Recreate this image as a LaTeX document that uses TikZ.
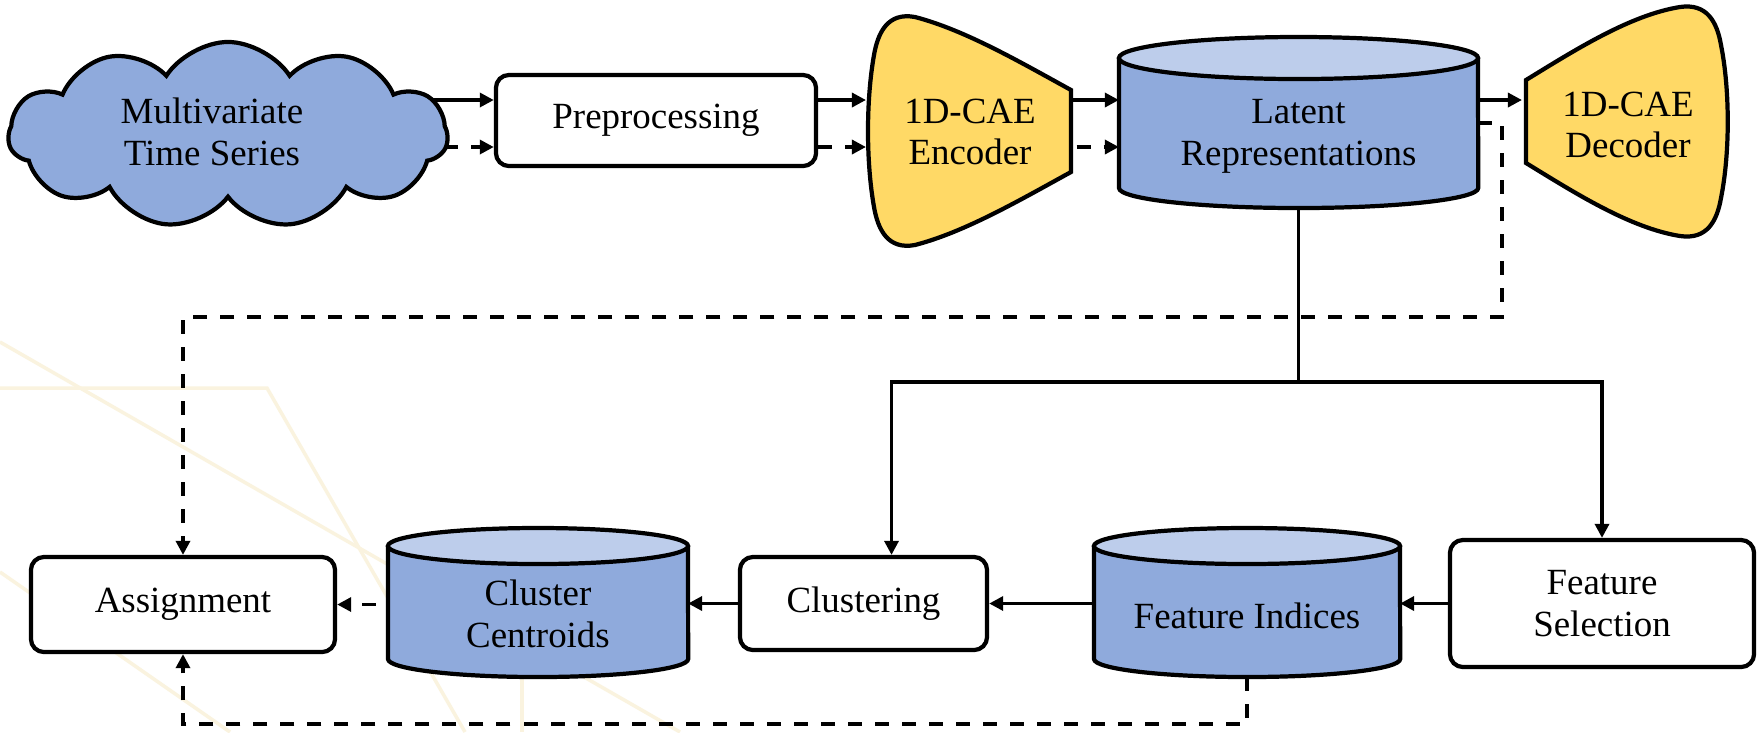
\documentclass[tikz,border=0pt]{standalone}
\usepackage{fontspec}
\setmainfont{Liberation Serif}
\newfontfamily\diagramfont{Liberation Serif}
\usetikzlibrary{shapes.symbols,arrows.meta}
\definecolor{dbblue}{HTML}{8FAADC}
\definecolor{dbtop}{HTML}{BDCDEB}
\definecolor{caeyellow}{HTML}{FFD966}
\definecolor{faintline}{HTML}{FAF3DF}
\pgfdeclarelayer{back}
\pgfdeclarelayer{wires}
\pgfsetlayers{back,wires,main}

\tikzset{
  lbl/.style={font=\diagramfont\fontsize{10.5}{11.9}\selectfont, align=center, inner sep=0pt},
  procbox/.style={draw, line width=1.2pt, rounded corners=0.13cm, fill=white, lbl},
  frame/.style={draw=none, inner sep=0pt, outer sep=0pt},
  shapeline/.style={draw=black, line width=1.2pt},
  edge/.style={line width=0.95pt},
  arr/.style={edge, -{Triangle[length=0.14cm, width=0.14cm]}},
  dsh/.style={dash pattern=on 0.14cm off 0.13cm},
  faint/.style={draw=faintline, line width=0.035cm},
}

\begin{document}
\begin{tikzpicture}[x=0.01cm, y=-0.01cm]
\useasboundingbox (0,0) rectangle (1763,732);

\begin{pgfonlayer}{back}
  \fill[white] (0,0) rectangle (1763,732);
  % light decorative strokes in the lower left
  \draw[faint] (0,342) -- (680,732);
  \draw[faint] (0,388) -- (267,388) -- (465,732);
  \draw[faint] (0,572) -- (230,732);
  \draw[faint] (522,676) -- (522,732);
\end{pgfonlayer}

% ---------- top row ----------
\node[cloud, cloud puffs=11, cloud puff arc=115, aspect=2.5, fill=dbblue, shapeline,
      minimum width=4.39cm, minimum height=1.86cm, inner sep=0pt] (mts) at (228,135) {};
\node[lbl] (mtslabel) at (212,132) {Multivariate\\Time Series};

\node[procbox, minimum width=3.20cm, minimum height=0.91cm] (prep) at (656,120.5) {Preprocessing};

% encoder: wide curved inlet narrowing to the right
\path[fill=caeyellow, shapeline] (1071,90) .. controls (1020,62) and (965,30) .. (915,17)
  .. controls (888,12) and (878,32) .. (874,55)
  .. controls (866,100) and (866,162) .. (874,207)
  .. controls (878,230) and (888,250) .. (915,245)
  .. controls (965,232) and (1020,200) .. (1071,172) -- cycle;
\node[frame, minimum width=2.05cm, minimum height=2.32cm] (enc) at (968.5,131) {};
\node[lbl] (enclabel) at (970,132) {1D-CAE\\Encoder};

% latent store
\path[fill=dbblue, shapeline] (1119,58) -- (1119,188)
  arc[start angle=180, end angle=360, x radius=1.795cm, y radius=0.2cm] -- (1478,58);
\path[fill=dbtop, shapeline] (1298.5,58) ellipse [x radius=1.795cm, y radius=0.21cm];
\node[frame, minimum width=3.59cm, minimum height=1.71cm] (lat) at (1298.5,122.5) {};
\node[lbl] (latlabel) at (1298.5,136) {Latent\\Representations};

% decoder: narrow inlet widening to the right
\path[fill=caeyellow, shapeline] (1526,80) .. controls (1575,50) and (1630,15) .. (1680,7)
  .. controls (1707,3) and (1717,22) .. (1721,45)
  .. controls (1730,90) and (1730,153) .. (1721,198)
  .. controls (1717,221) and (1707,240) .. (1680,236)
  .. controls (1630,228) and (1575,193) .. (1526,163) -- cycle;
\node[frame, minimum width=2.09cm, minimum height=2.32cm] (dec) at (1626.5,121) {};
\node[lbl] (declabel) at (1628,125) {1D-CAE\\Decoder};

% ---------- bottom row ----------
\node[procbox, minimum width=3.04cm, minimum height=0.95cm] (asg) at (183,604.5) {Assignment};

\path[fill=dbblue, shapeline] (388,546) -- (388,659)
  arc[start angle=180, end angle=360, x radius=1.50cm, y radius=0.18cm] -- (688,546);
\path[fill=dbtop, shapeline] (538,546) ellipse [x radius=1.50cm, y radius=0.18cm];
\node[frame, minimum width=3.00cm, minimum height=1.49cm] (cc) at (538,602.5) {};
\node[lbl] (cclabel) at (538,614) {Cluster\\Centroids};

\node[procbox, minimum width=2.47cm, minimum height=0.93cm] (clu) at (863.5,603.5) {Clustering};

\path[fill=dbblue, shapeline] (1094,546) -- (1094,659)
  arc[start angle=180, end angle=360, x radius=1.53cm, y radius=0.18cm] -- (1400,546);
\path[fill=dbtop, shapeline] (1247,546) ellipse [x radius=1.53cm, y radius=0.18cm];
\node[frame, minimum width=3.06cm, minimum height=1.49cm] (fi) at (1247,602.5) {};
\node[lbl] (filabel) at (1247,616) {Feature Indices};

\node[procbox, minimum width=3.04cm, minimum height=1.27cm] (fs) at (1602,603.5) {Feature\\Selection};

% ---------- connectors ----------
\coordinate (fbtop) at (1502,317);
\coordinate (split) at (1298.5,382);
\coordinate (fbbot) at (183,724);

\begin{pgfonlayer}{wires}
  \draw[arr] (mts.center |- 0,100) -- (prep.west |- 0,100);
  \draw[arr, dsh] (mts.center |- 0,147) -- (prep.west |- 0,147);
  \draw[arr] (prep.east |- 0,100) -- (enc.west |- 0,100);
  \draw[arr, dsh] (prep.east |- 0,147) -- (enc.west |- 0,147);
  \draw[arr] (enc.center |- 0,100) -- (lat.west |- 0,100);
  \draw[arr, dsh] (enc.center |- 0,147) -- (lat.west |- 0,147);
  \draw[arr] (lat.center |- 0,100) -- (dec.west |- 0,100);

  \draw[arr, dsh] (lat.east |- 0,123) -| (fbtop) -| (asg.north);

  \draw[edge] (lat.south) -- (split);
  \draw[arr] (split) -| ([xshift=0.28cm]clu.north);
  \draw[arr] (split) -| (fs.north);

  \draw[arr] (fs.west) -- (fs.west -| fi.east);
  \draw[arr] (fi.center |- clu.east) -- (clu.east);
  \draw[arr] (clu.west) -- (clu.west -| cc.east);
  \draw[arr, dsh] (cc.center |- asg.east) -- (asg.east);
  \draw[arr, dsh] (fi.south) |- (fbbot) -- (asg.south);
\end{pgfonlayer}
\end{tikzpicture}
\end{document}
